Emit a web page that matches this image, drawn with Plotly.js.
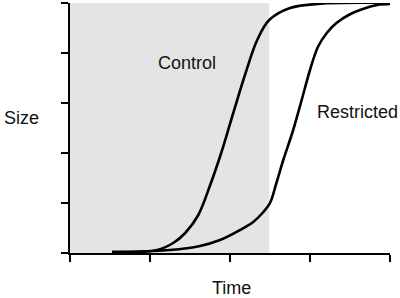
<!DOCTYPE html>
<html>
<head>
<meta charset="utf-8">
<script src="https://cdn.plot.ly/plotly-3.0.1.min.js"></script>
<style>html,body{margin:0;padding:0;background:#fff;}#chart{width:400px;height:298px;}</style>
</head>
<body>
<div id="chart"></div>
<script>
// Data (time in arbitrary units 0-4, size 0-1)
const controlTime = [0.525, 1.09, 1.29, 1.44, 1.6, 1.75, 1.9, 2.05, 2.2, 2.34, 2.49, 2.75, 3.125, 4.0];
const controlSize = [0.004, 0.012, 0.04, 0.08, 0.15, 0.27, 0.41, 0.57, 0.725, 0.852, 0.932, 0.98, 0.997, 1.0];
const restrictedTime = [0.525, 1.25, 1.625, 1.875, 2.125, 2.29, 2.42, 2.5, 2.58, 2.666, 2.79, 2.896, 3.0, 3.1, 3.21, 3.33, 3.5, 3.625, 3.84, 4.0];
const restrictedSize = [0.004, 0.012, 0.028, 0.052, 0.092, 0.124, 0.165, 0.2, 0.28, 0.372, 0.492, 0.612, 0.732, 0.825, 0.88, 0.92, 0.955, 0.972, 0.992, 0.996];
const shadedPeriod = [0, 2.49];
const seriesNames = ["Control", "Restricted"];
const axisTitles = {x: "Time", y: "Size"};

const font = {family: "Liberation Sans, Arial, sans-serif", size: 18, color: "#111"};
const lineStyle = {color: "#000", width: 2.6, shape: "spline", smoothing: 1};

const traces = [
  {x: controlTime, y: controlSize, name: seriesNames[0], mode: "lines", line: lineStyle, hoverinfo: "skip"},
  {x: restrictedTime, y: restrictedSize, name: seriesNames[1], mode: "lines", line: lineStyle, hoverinfo: "skip"}
];

const axisCommon = {
  showgrid: false, zeroline: false, showline: true, linecolor: "#000", linewidth: 2,
  ticks: "outside", ticklen: 7, tickwidth: 2, tickcolor: "#000", showticklabels: false,
  fixedrange: true
};

const layout = {
  width: 400, height: 298,
  margin: {l: 70, r: 10, t: 3, b: 45, pad: 0},
  paper_bgcolor: "#fff", plot_bgcolor: "#fff",
  showlegend: false,
  font: font,
  xaxis: Object.assign({}, axisCommon, {range: [0, 4], dtick: 1, tick0: 0}),
  yaxis: Object.assign({}, axisCommon, {range: [0, 1], dtick: 0.2, tick0: 0}),
  shapes: [{
    type: "rect", xref: "x", yref: "y", x0: shadedPeriod[0], x1: shadedPeriod[1], y0: 0, y1: 1,
    fillcolor: "#e4e4e4", line: {width: 0}, layer: "below"
  }],
  annotations: [
    {text: seriesNames[0], xref: "x", yref: "y", x: 1.46, y: 0.762, showarrow: false, font: font, xanchor: "center", yanchor: "middle"},
    {text: seriesNames[1], xref: "x", yref: "y", x: 3.59, y: 0.565, showarrow: false, font: font, xanchor: "center", yanchor: "middle"},
    {text: axisTitles.y, xref: "paper", yref: "paper", x: -0.153, y: 0.54, showarrow: false, font: font, xanchor: "center", yanchor: "middle"},
    {text: axisTitles.x, xref: "paper", yref: "paper", x: 0.506, y: -0.14, showarrow: false, font: font, xanchor: "center", yanchor: "middle"}
  ]
};

Plotly.newPlot("chart", traces, layout, {staticPlot: true, displayModeBar: false});
</script>
</body>
</html>
